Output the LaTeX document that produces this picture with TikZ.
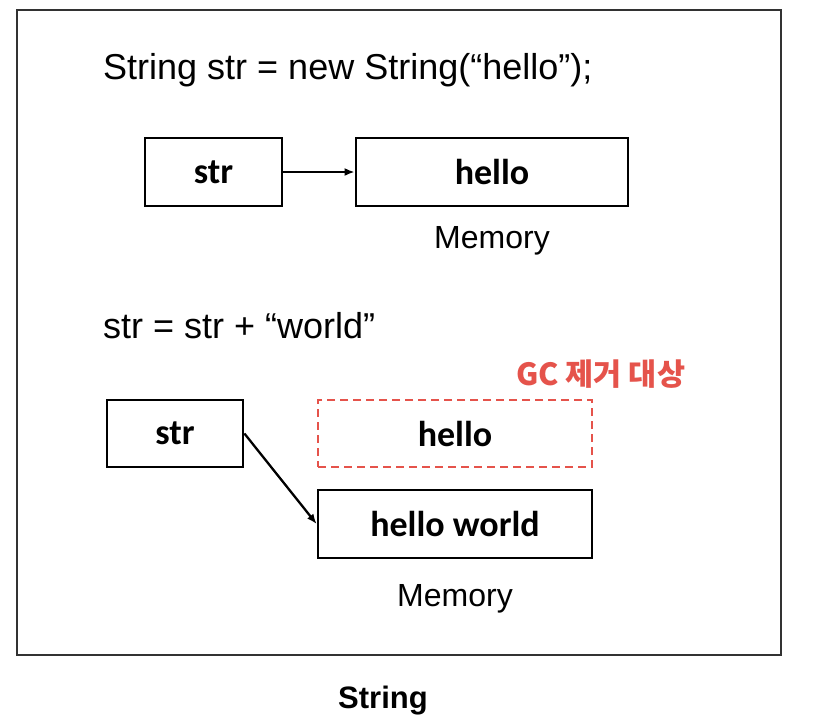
\documentclass[tikz,border=0pt]{standalone}
\usepackage{fontspec}
\setmainfont{Liberation Sans}
\newfontfamily\calfont{Carlito}
\newfontfamily\krfont{Noto Sans CJK KR}
\usetikzlibrary{arrows.meta}
\definecolor{gcred}{RGB}{229,83,75}
\definecolor{framegray}{RGB}{50,50,50}
\tikzset{
  membox/.style={draw=black, line width=2.8pt, inner sep=0pt, font=\calfont\bfseries\fontsize{36}{40}\selectfont},
  gcbox/.style={membox, draw=gcred, line width=2.8pt, dash pattern=on 8pt off 5pt},
  codetext/.style={inner sep=0pt, font=\fontsize{36}{40}\selectfont},
  memlabel/.style={inner sep=0pt, font=\fontsize{32}{36}\selectfont},
  ptr/.style={line width=2.3pt, -{Latex[length=10pt,width=8pt]}}
}
\begin{document}
\begin{tikzpicture}[x=1pt,y=-1pt]
\useasboundingbox (0,0) rectangle (828,724);
\fill[white] (0,0) rectangle (828,724);
\draw[framegray, line width=2pt] (17,10) rectangle (781,655);

\node[codetext, anchor=base west] (code1) at (103,79) {String str = new String(“hello”);};
\node[membox, minimum width=137pt, minimum height=68pt] (str1) at (213.5,172) {str};
\node[membox, minimum width=272pt, minimum height=68pt] (hello1) at (492,172) {hello};
\node[memlabel, anchor=base] (mem1) at (492,248) {Memory};
\draw[ptr] (str1.east) -- (hello1.west);

\node[codetext, anchor=base west] (code2) at (103,338) {str = str + “world”};
\node[inner sep=0pt, anchor=base west, text=gcred, font=\krfont\bfseries\fontsize{30.5}{34}\selectfont] (gc) at (516,385) {GC 제거 대상};
\node[membox, minimum width=136pt, minimum height=67pt] (str2) at (175,433.5) {str};
\node[gcbox, minimum width=274pt, minimum height=67pt] (hello2) at (455,433.5) {hello};
\node[membox, minimum width=274pt, minimum height=68pt] (hw) at (455,524) {hello world};
\node[memlabel, anchor=base] (mem2) at (455,606) {Memory};
\draw[ptr] (str2.east) -- (hw.west);

\node[inner sep=0pt, anchor=base, font=\bfseries\fontsize{31}{36}\selectfont] (cap) at (383,708) {String};
\end{tikzpicture}
\end{document}
